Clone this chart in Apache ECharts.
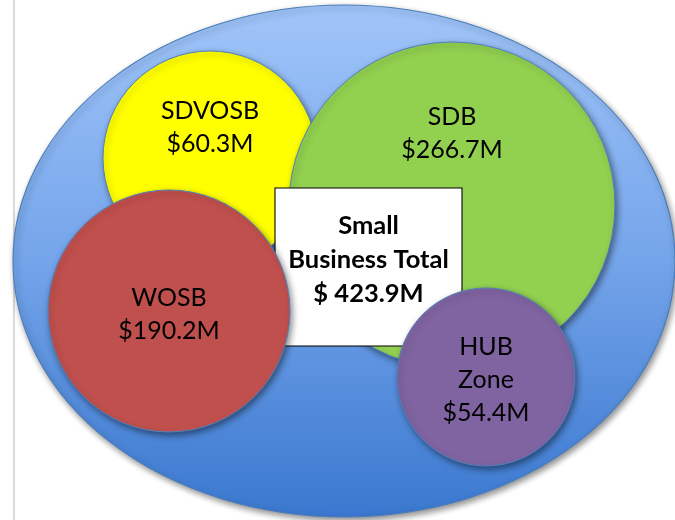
<!DOCTYPE html>
<html>
<head>
<meta charset="utf-8">
<script src="https://cdn.jsdelivr.net/npm/echarts@6/dist/echarts.min.js"></script>
<style>
  html, body { margin: 0; padding: 0; background: #fff; }
  #chart { width: 675px; height: 520px; }
</style>
</head>
<body>
<div id="chart"></div>
<script>
// data
const segments = ['SDVOSB', 'SDB', 'WOSB', 'HUB\nZone'];
const amounts = [60.3, 266.7, 190.2, 54.4];
const totalTitle = ['Small', 'Business Total'];
const totalAmount = 423.9;

// layout of the bubbles, in page pixels (drawn through hidden value axes)
const outer = { cx: 344, cy: 261, w: 662, h: 512 };
const bubbleLayout = [
  { cx: 210, cy: 158, r: 107, color: '#ffff00', dy: -31, z: 3 },
  { cx: 452, cy: 205, r: 163, color: '#92d050', dy: -72, z: 4 },
  { cx: 169, cy: 311, r: 121, color: '#c0504d', dy: 3, z: 6 },
  { cx: 486, cy: 377, r: 89, color: '#8064a2', dy: 3, z: 7 }
];
const box = { cx: 368.5, cy: 267, w: 187, h: 158, dy: -7 };

const fmt = v => '$' + v.toFixed(1) + 'M';
const font = 'Lato, "Open Sans", sans-serif';
const shadow = {
  shadowBlur: 6,
  shadowColor: 'rgba(0,0,0,0.45)',
  shadowOffsetX: 2,
  shadowOffsetY: 3
};

const chart = echarts.init(document.getElementById('chart'));

const series = [];
series.push({
  type: 'scatter',
  z: 2,
  silent: true,
  symbol: 'circle',
  symbolSize: [outer.w, outer.h],
  itemStyle: Object.assign({
    color: new echarts.graphic.LinearGradient(0, 0, 0, 1, [
      { offset: 0, color: '#a0c5f9' },
      { offset: 0.5, color: '#74a4ea' },
      { offset: 1, color: '#3a78cf' }
    ]),
    borderColor: '#4a7ebb',
    borderWidth: 1,
    opacity: 1
  }, shadow),
  data: [[outer.cx, outer.cy]]
});

const boxSeries = {
  type: 'scatter',
  z: 5,
  silent: true,
  symbol: 'rect',
  symbolSize: [box.w, box.h],
  itemStyle: { color: '#ffffff', borderColor: '#000', borderWidth: 1, opacity: 1 },
  label: {
    show: true,
    position: 'inside',
    offset: [0, box.dy],
    formatter: () => totalTitle.join('\n') + '\n$ ' + totalAmount.toFixed(1) + 'M',
    color: '#000',
    fontFamily: font,
    fontWeight: 'bold',
    fontSize: 25.5,
    lineHeight: 34
  },
  data: [[box.cx, box.cy]]
};

segments.forEach((name, i) => {
  const b = bubbleLayout[i];
  series.push({
    type: 'scatter',
    z: b.z,
    silent: true,
    symbol: 'circle',
    symbolSize: b.r * 2,
    itemStyle: Object.assign({
      color: b.color,
      borderColor: '#4f81bd',
      borderWidth: 1,
      opacity: 1
    }, shadow),
    label: {
      show: true,
      position: 'inside',
      offset: [0, b.dy],
      formatter: () => name + '\n' + fmt(amounts[i]),
      color: '#000',
      fontFamily: font,
      fontSize: 25,
      lineHeight: 33
    },
    data: [[b.cx, b.cy]]
  });
});
series.push(boxSeries);

chart.setOption({
  animation: false,
  grid: { left: 14, right: 0, top: 0, bottom: 0 },
  xAxis: {
    type: 'value', min: 14, max: 675,
    show: false
  },
  yAxis: {
    type: 'value', min: 0, max: 520, inverse: true,
    axisLine: { show: true, lineStyle: { color: '#d9d9d9', width: 2 } },
    axisTick: { show: false },
    axisLabel: { show: false },
    splitLine: { show: false }
  },
  series: series
});
</script>
</body>
</html>
